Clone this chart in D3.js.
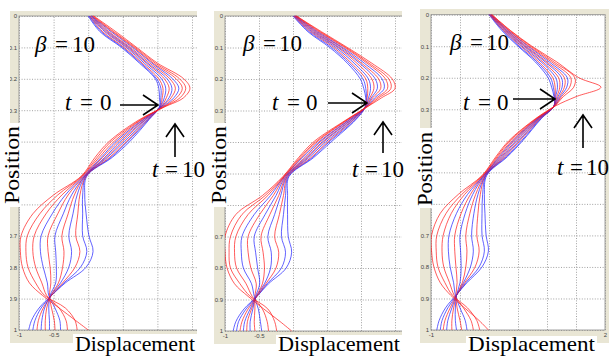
<!DOCTYPE html>
<html>
<head>
<meta charset="utf-8">
<script src="https://cdn.jsdelivr.net/npm/d3@7"></script>
<style>
  body { margin: 0; background: #fff; }
  .serif { font-family: "Liberation Serif", "DejaVu Serif", serif; }
</style>
</head>
<body>
<div class="container"></div>
<script>
(function(d3) {
  "use strict";

  // time steps drawn in each panel (one line per step)
  var timeSteps = [0, 1, 2, 3, 4, 5, 6, 7, 8, 9, 10];
  var lineColors = ["blue", "blue", "red", "blue", "red", "blue", "red", "blue", "red", "red", "red"];

  var positions = [0, 0.05, 0.1, 0.15, 0.2, 0.23, 0.26, 0.29, 0.33, 0.4, 0.45,
                   0.51, 0.57, 0.63, 0.7, 0.75, 0.8, 0.85, 0.89, 0.93, 0.97, 1];

  var xTicks = [-1, -0.5, 0, 0.5, 1, 1.5, 2];
  var yTicks = [0, 0.1, 0.2, 0.3, 0.4, 0.5, 0.6, 0.7, 0.8, 0.9, 1];
  var xTickLabels = ["-1", "-0.5", "0", "0.5", "1", "1.5", "2"];
  var yTickLabels = ["0", "0.1", "0.2", "0.3", "0.4", "0.5", "0.6", "0.7", "0.8", "0.9", "1"];

  var betaValues = [10, 10, 10];

  // displacement: one row per position, one column per time step
  var dispA = [
    [0.00, 0.01, 0.02, 0.02, 0.03, 0.04, 0.05, 0.05, 0.06, 0.07, 0.08],
    [0.17, 0.19, 0.21, 0.24, 0.26, 0.28, 0.30, 0.33, 0.35, 0.37, 0.40],
    [0.48, 0.50, 0.52, 0.55, 0.57, 0.59, 0.61, 0.64, 0.66, 0.68, 0.70],
    [0.74, 0.76, 0.78, 0.81, 0.84, 0.86, 0.89, 0.92, 0.94, 0.97, 1.00],
    [0.97, 0.99, 1.02, 1.06, 1.10, 1.14, 1.18, 1.22, 1.27, 1.32, 1.38],
    [1.02, 1.05, 1.08, 1.12, 1.17, 1.21, 1.26, 1.31, 1.36, 1.41, 1.47],
    [1.03, 1.05, 1.07, 1.10, 1.13, 1.17, 1.20, 1.24, 1.28, 1.33, 1.38],
    [1.03, 1.03, 1.04, 1.04, 1.05, 1.05, 1.06, 1.07, 1.08, 1.09, 1.10],
    [0.88, 0.87, 0.86, 0.85, 0.83, 0.82, 0.80, 0.79, 0.77, 0.76, 0.74],
    [0.60, 0.57, 0.55, 0.52, 0.49, 0.46, 0.43, 0.40, 0.37, 0.33, 0.30],
    [0.35, 0.33, 0.31, 0.28, 0.26, 0.24, 0.21, 0.19, 0.16, 0.13, 0.10],
    [-0.02, -0.03, -0.03, -0.04, -0.05, -0.05, -0.06, -0.07, -0.08, -0.09, -0.10],
    [-0.05, -0.08, -0.12, -0.16, -0.20, -0.24, -0.29, -0.33, -0.38, -0.44, -0.50],
    [-0.03, -0.08, -0.15, -0.22, -0.29, -0.36, -0.44, -0.52, -0.61, -0.70, -0.80],
    [0.01, -0.08, -0.18, -0.28, -0.38, -0.48, -0.58, -0.68, -0.78, -0.88, -0.97],
    [0.07, -0.02, -0.12, -0.24, -0.35, -0.47, -0.58, -0.69, -0.80, -0.90, -0.98],
    [-0.03, -0.11, -0.19, -0.28, -0.37, -0.46, -0.55, -0.65, -0.76, -0.87, -0.95],
    [-0.33, -0.35, -0.37, -0.40, -0.43, -0.47, -0.54, -0.59, -0.67, -0.76, -0.85],
    [-0.53, -0.53, -0.53, -0.54, -0.54, -0.55, -0.56, -0.57, -0.60, -0.63, -0.66],
    [-0.71, -0.68, -0.65, -0.63, -0.60, -0.57, -0.53, -0.48, -0.42, -0.33, -0.42],
    [-0.82, -0.77, -0.72, -0.67, -0.62, -0.56, -0.49, -0.41, -0.32, -0.19, -0.18],
    [-0.86, -0.80, -0.74, -0.68, -0.62, -0.56, -0.48, -0.40, -0.30, -0.16, 0.00]
  ];

  var dispB = [
    [0.00, 0.01, 0.01, 0.02, 0.02, 0.03, 0.03, 0.04, 0.04, 0.05, 0.05],
    [0.22, 0.24, 0.26, 0.28, 0.30, 0.32, 0.34, 0.36, 0.38, 0.40, 0.42],
    [0.54, 0.57, 0.60, 0.63, 0.66, 0.68, 0.71, 0.73, 0.76, 0.78, 0.80],
    [0.80, 0.83, 0.86, 0.90, 0.94, 0.98, 1.01, 1.05, 1.09, 1.12, 1.16],
    [0.99, 1.03, 1.07, 1.11, 1.16, 1.21, 1.26, 1.31, 1.36, 1.41, 1.46],
    [1.04, 1.07, 1.10, 1.14, 1.19, 1.24, 1.29, 1.34, 1.39, 1.44, 1.50],
    [1.07, 1.08, 1.09, 1.11, 1.13, 1.15, 1.17, 1.20, 1.23, 1.26, 1.30],
    [1.06, 1.06, 1.06, 1.06, 1.06, 1.07, 1.07, 1.07, 1.07, 1.08, 1.08],
    [0.92, 0.91, 0.89, 0.88, 0.86, 0.85, 0.83, 0.82, 0.80, 0.79, 0.78],
    [0.56, 0.53, 0.51, 0.48, 0.45, 0.43, 0.40, 0.38, 0.35, 0.33, 0.30],
    [0.30, 0.28, 0.26, 0.23, 0.21, 0.19, 0.17, 0.14, 0.12, 0.10, 0.08],
    [-0.06, -0.07, -0.08, -0.09, -0.10, -0.11, -0.12, -0.13, -0.13, -0.14, -0.15],
    [-0.08, -0.11, -0.14, -0.18, -0.21, -0.25, -0.29, -0.33, -0.37, -0.41, -0.45],
    [-0.08, -0.14, -0.20, -0.27, -0.34, -0.41, -0.49, -0.57, -0.66, -0.75, -0.84],
    [-0.07, -0.17, -0.27, -0.37, -0.47, -0.57, -0.66, -0.75, -0.84, -0.92, -1.00],
    [-0.02, -0.11, -0.21, -0.32, -0.44, -0.55, -0.66, -0.76, -0.86, -0.94, -1.00],
    [-0.10, -0.17, -0.25, -0.33, -0.42, -0.52, -0.62, -0.73, -0.83, -0.92, -0.97],
    [-0.36, -0.38, -0.40, -0.42, -0.45, -0.49, -0.54, -0.61, -0.69, -0.78, -0.86],
    [-0.53, -0.53, -0.53, -0.54, -0.54, -0.55, -0.56, -0.57, -0.60, -0.63, -0.66],
    [-0.72, -0.69, -0.66, -0.63, -0.61, -0.59, -0.56, -0.51, -0.45, -0.37, -0.43],
    [-0.84, -0.80, -0.75, -0.71, -0.67, -0.63, -0.57, -0.48, -0.38, -0.27, -0.19],
    [-0.88, -0.83, -0.78, -0.73, -0.68, -0.63, -0.56, -0.46, -0.36, -0.24, -0.02]
  ];

  var dispC = [
    [0.00, 0.01, 0.01, 0.02, 0.02, 0.03, 0.03, 0.04, 0.04, 0.05, 0.05],
    [0.22, 0.24, 0.25, 0.27, 0.28, 0.30, 0.31, 0.33, 0.34, 0.36, 0.37],
    [0.50, 0.52, 0.55, 0.57, 0.60, 0.62, 0.64, 0.67, 0.69, 0.72, 0.74],
    [0.80, 0.83, 0.86, 0.90, 0.93, 0.97, 1.00, 1.04, 1.08, 1.12, 1.17],
    [1.02, 1.06, 1.10, 1.15, 1.20, 1.25, 1.30, 1.35, 1.41, 1.48, 1.55],
    [1.08, 1.11, 1.14, 1.18, 1.22, 1.26, 1.30, 1.34, 1.39, 1.46, 1.93],
    [1.12, 1.13, 1.14, 1.15, 1.17, 1.19, 1.21, 1.23, 1.25, 1.28, 1.50],
    [1.12, 1.12, 1.12, 1.12, 1.12, 1.12, 1.12, 1.13, 1.13, 1.13, 1.14],
    [0.90, 0.89, 0.88, 0.87, 0.86, 0.85, 0.84, 0.83, 0.82, 0.81, 0.80],
    [0.58, 0.56, 0.53, 0.51, 0.48, 0.46, 0.43, 0.41, 0.39, 0.36, 0.34],
    [0.32, 0.30, 0.28, 0.26, 0.24, 0.22, 0.20, 0.18, 0.16, 0.14, 0.12],
    [-0.04, -0.05, -0.06, -0.06, -0.07, -0.08, -0.09, -0.09, -0.10, -0.11, -0.12],
    [-0.08, -0.11, -0.15, -0.19, -0.23, -0.28, -0.32, -0.37, -0.42, -0.47, -0.53],
    [-0.07, -0.12, -0.19, -0.26, -0.33, -0.41, -0.48, -0.56, -0.65, -0.74, -0.84],
    [-0.05, -0.12, -0.21, -0.30, -0.40, -0.50, -0.59, -0.69, -0.79, -0.90, -0.99],
    [-0.01, -0.08, -0.17, -0.27, -0.38, -0.49, -0.59, -0.70, -0.81, -0.91, -0.99],
    [-0.12, -0.17, -0.24, -0.32, -0.40, -0.48, -0.57, -0.67, -0.78, -0.88, -0.95],
    [-0.38, -0.40, -0.42, -0.44, -0.46, -0.50, -0.55, -0.61, -0.68, -0.76, -0.84],
    [-0.57, -0.56, -0.56, -0.56, -0.56, -0.56, -0.57, -0.58, -0.60, -0.63, -0.66],
    [-0.75, -0.71, -0.67, -0.64, -0.61, -0.58, -0.55, -0.50, -0.44, -0.37, -0.42],
    [-0.86, -0.81, -0.76, -0.71, -0.64, -0.58, -0.50, -0.41, -0.31, -0.21, -0.17],
    [-0.90, -0.84, -0.79, -0.73, -0.64, -0.56, -0.47, -0.38, -0.27, -0.16, -0.01]
  ];

  // page layout of the three (cropped) panels
  var panels = [
    { disp: dispA, left: 19, top: 16, bottom: 330, unit: 69.2, right: 197,
      frame: [10, 11, 197, 343], posBox: [3, 123, 18, 84], posX: 19, posY: 165,
      dispBox: [73, 334, 124, 22], beta: [35, 52, 20, 37], t0: [65, 110, 15, 35, 120, 158, 105],
      t10: [152, 177, 13, 30, 175, 124, 157] },
    { disp: dispB, left: 225, top: 16, bottom: 331, unit: 68, right: 402,
      frame: [214, 11, 402, 344], posBox: [210, 123, 17, 84], posX: 226, posY: 165,
      dispBox: [276, 335, 126, 21], beta: [243, 51, 20, 36], t0: [272, 110, 15, 34, 328, 367, 103],
      t10: [352, 177, 13, 29, 383, 122, 153] },
    { disp: dispC, left: 431, top: 14.7, bottom: 330, unit: 58, right: 605,
      frame: [420, 9, 609, 343], posBox: [416, 128, 16, 80], posX: 432, posY: 169,
      dispBox: [466, 336, 131, 20], beta: [450, 50, 20, 36], t0: [463, 110, 15, 34, 513, 555, 99],
      t10: [557, 175, 13, 29, 583, 115, 148] }
  ];

  var svg = d3.select(".container").append("svg")
      .attr("width", 609)
      .attr("height", 356);

  panels.forEach(function(p, i) { drawPanel(p, i); });

  function drawPanel(p, idx) {
    var x = d3.scaleLinear().domain([-1, 2]).range([p.left, p.left + 3 * p.unit]);
    var y = d3.scaleLinear().domain([0, 1]).range([p.top, p.bottom]);
    var g = svg.append("g").attr("class", "panel");

    svg.append("clipPath").attr("id", "clip" + idx)
      .append("rect")
        .attr("x", p.left).attr("y", p.top - 1)
        .attr("width", p.right - p.left).attr("height", p.bottom - p.top + 2);

    svg.append("clipPath").attr("id", "outer" + idx)
      .append("rect")
        .attr("x", p.frame[0]).attr("y", p.frame[1])
        .attr("width", p.frame[2] - p.frame[0]).attr("height", p.frame[3] - p.frame[1]);

    var inner = g.append("g").attr("clip-path", "url(#outer" + idx + ")");

    inner.append("rect")
        .attr("x", p.frame[0]).attr("y", p.frame[1])
        .attr("width", p.frame[2] - p.frame[0]).attr("height", p.frame[3] - p.frame[1])
        .style("fill", "#e9e6d5");

    inner.append("rect")
        .attr("x", p.left).attr("y", p.top)
        .attr("width", 3 * p.unit).attr("height", p.bottom - p.top)
        .style("fill", "#fff");

    var xAxis = inner.append("g")
        .attr("class", "x axis")
        .attr("transform", svgTranslateString(0, p.bottom))
        .call(d3.axisBottom(x).tickValues(xTicks)
          .tickSize(-(p.bottom - p.top)).tickPadding(3)
          .tickFormat(function(d, i) { return xTickLabels[i]; }));

    var yAxis = inner.append("g")
        .attr("class", "y axis")
        .attr("transform", svgTranslateString(p.left, 0))
        .call(d3.axisLeft(y).tickValues(yTicks)
          .tickSize(-3 * p.unit).tickPadding(2)
          .tickFormat(function(d, i) { return yTickLabels[i]; }));

    // labels hidden under the white title boxes or cut off by the crop are not shown
    xAxis.selectAll(".tick text").filter(function(d) {
      var px = x(d);
      return (px > p.dispBox[0] - 8 && px < p.dispBox[0] + p.dispBox[2] + 4) || px > p.frame[2] - 2;
    }).remove();
    yAxis.selectAll(".tick text").filter(function(d) {
      var py = y(d);
      return py > p.posBox[1] - 3 && py < p.posBox[1] + p.posBox[3] + 3;
    }).remove();

    [xAxis, yAxis].forEach(function(a) {
      a.select(".domain").remove();
      a.selectAll(".tick line")
          .style("stroke", "#8a8a8a")
          .style("stroke-width", 0.8)
          .style("stroke-dasharray", "1,1.6");
      a.selectAll(".tick text")
          .style("font-family", "\"Liberation Sans\", Arial, sans-serif")
          .style("font-size", "6px")
          .style("fill", "#444");
    });

    inner.append("rect")
        .attr("x", p.left).attr("y", p.top)
        .attr("width", 3 * p.unit).attr("height", p.bottom - p.top)
        .style("fill", "none")
        .style("stroke", "#8c8c8c")
        .style("stroke-width", 0.8);

    var line = d3.line()
        .x(function(d) { return x(d[0]); })
        .y(function(d) { return y(d[1]); })
        .curve(d3.curveCatmullRom.alpha(0.5));

    g.append("g")
        .attr("clip-path", "url(#clip" + idx + ")")
      .selectAll(".curve")
        .data(timeSteps)
      .enter().append("path")
        .attr("class", "curve")
        .attr("d", function(t, k) {
          return line(positions.map(function(pos, i) { return [p.disp[i][k], pos]; }));
        })
        .style("fill", "none")
        .style("stroke", function(t, k) { return lineColors[k] === "red" ? "#ff1c1c" : "#2424ff"; })
        .style("stroke-width", 0.9)
        .style("stroke-opacity", 0.8);

    // axis titles on white boxes
    g.append("rect")
        .attr("x", p.posBox[0]).attr("y", p.posBox[1])
        .attr("width", p.posBox[2]).attr("height", p.posBox[3])
        .style("fill", "#fff");
    g.append("text")
        .attr("class", "serif")
        .attr("transform", "translate(" + p.posX + "," + p.posY + ") rotate(-90)")
        .attr("text-anchor", "middle")
        .attr("textLength", p.posBox[3] - 6)
        .attr("lengthAdjust", "spacingAndGlyphs")
        .style("font-size", "21px")
        .text("Position");

    g.append("rect")
        .attr("x", p.dispBox[0]).attr("y", p.dispBox[1])
        .attr("width", p.dispBox[2]).attr("height", p.dispBox[3])
        .style("fill", "#fff");
    g.append("text")
        .attr("class", "serif")
        .attr("x", p.dispBox[0] + 2).attr("y", 351)
        .attr("textLength", p.dispBox[2] - 4)
        .attr("lengthAdjust", "spacingAndGlyphs")
        .style("font-size", "21px")
        .text("Displacement");

    // annotations
    annotate(g, p.beta, "\u03b2", betaValues[idx]);
    annotate(g, p.t0, "t", timeSteps[0]);
    annotate(g, p.t10, "t", timeSteps[timeSteps.length - 1]);

    var arrows = g.append("g")
        .style("stroke", "#000")
        .style("stroke-width", 1.6)
        .style("fill", "none");

    var ax0 = p.t0[4], ax1 = p.t0[5], ay = p.t0[6];
    arrows.append("path")
        .attr("d", "M" + ax0 + "," + ay + "H" + ax1 +
                   "M" + (ax1 - 15) + "," + (ay - 10) + "L" + ax1 + "," + ay +
                   "L" + (ax1 - 15) + "," + (ay + 10));

    var ux = p.t10[4], uy0 = p.t10[5], uy1 = p.t10[6];
    arrows.append("path")
        .attr("d", "M" + ux + "," + uy1 + "V" + uy0 +
                   "M" + (ux - 9) + "," + (uy0 + 13) + "L" + ux + "," + uy0 +
                   "L" + (ux + 9) + "," + (uy0 + 13));
  }

  function annotate(g, spec, symbol, value) {
    var text = g.append("text")
        .attr("class", "serif")
        .attr("y", spec[1])
        .style("font-size", "23px");
    text.append("tspan").attr("x", spec[0]).style("font-style", "italic").text(symbol);
    text.append("tspan").attr("x", spec[0] + spec[2]).text("=");
    text.append("tspan").attr("x", spec[0] + spec[3]).text(value);
  }

  function svgTranslateString(x, y) {
    return "translate(" + x + "," + y + ")";
  }

}(d3));
</script>
</body>
</html>
